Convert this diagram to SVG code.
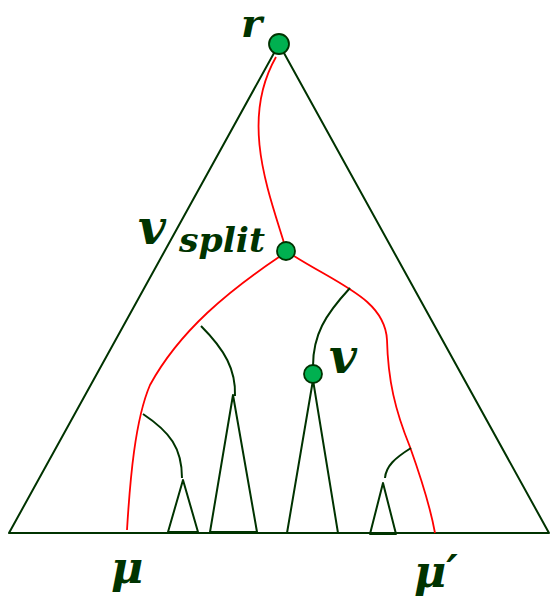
<svg xmlns="http://www.w3.org/2000/svg" width="550" height="603" viewBox="0 0 550 603">
<style>
.k{fill:none;stroke:#003300;stroke-width:2;stroke-linejoin:round}
.r{fill:none;stroke:#ff0000;stroke-width:1.8}
.n{fill:#00b050;stroke:#003300;stroke-width:1.8}
.t{font-family:"DejaVu Serif",serif;font-style:italic;font-weight:bold;fill:#003300}
</style>
<rect width="550" height="603" fill="#fff"/>
<g id="connectors">
<polygon class="k" points="279,44 9,533 549,533"/>
<path class="r" d="M276,57 C240,120 268,190 285,246"/>
<path class="r" d="M279,257 C230,290 180,330 150,385 C135,420 130,480 127,530"/>
<path class="r" d="M294,256 C340,285 385,300 387,340 C388,380 395,410 410,447 C420,475 430,505 435,533"/>
<path class="k" d="M350,288 C325,315 313,335 313,366"/>
<path class="k" d="M201,326 C225,350 236,370 235,396"/>
<path class="k" d="M143,414 C170,432 182,448 182,478"/>
<path class="k" d="M411,448 C395,458 386,466 385,478"/>
</g>
<g id="subtree1"><polygon class="k" points="183,480 168,532 198,532"/></g>
<g id="subtree2"><polygon class="k" points="233,395 210,532 257,532"/></g>
<g id="subtree3"><polygon class="k" points="313,380 287,533 338,533"/></g>
<g id="subtree4"><polygon class="k" points="383,483 370,534 396,534"/></g>
<g id="node-r"><circle class="n" cx="279" cy="44" r="10"/><text class="t" x="241" y="37" font-size="40">r</text></g>
<g id="node-vsplit"><circle class="n" cx="286" cy="251" r="9"/><text class="t" x="138" y="244" font-size="48">v</text><text class="t" x="179" y="252" font-size="34" textLength="86" lengthAdjust="spacingAndGlyphs">split</text></g>
<g id="node-v"><circle class="n" cx="313" cy="374" r="9"/><text class="t" x="329" y="373" font-size="48">v</text></g>
<g id="label-mu"><text class="t" x="111" y="583" font-size="44">μ</text></g>
<g id="label-mu2"><text class="t" x="414" y="587" font-size="44">μ′</text></g>
</svg>
